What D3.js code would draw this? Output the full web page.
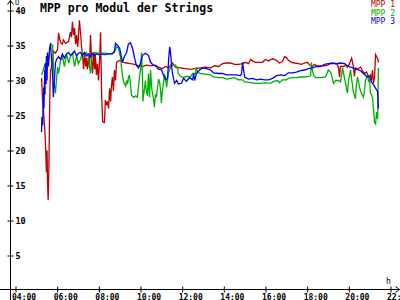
<!DOCTYPE html>
<html>
<head>
<meta charset="utf-8">
<script src="https://cdn.jsdelivr.net/npm/d3@7"></script>
<style>
  body { margin: 0; background: #fff; }
  svg { display: block; font-family: "DejaVu Sans Mono", monospace; }
</style>
</head>
<body>
<svg width="400" height="300"></svg>
<script>
// Series: [time, volts]
const mpp1 = [["05:15",30.4],["05:18",27.2],["05:21",25.4],["05:24",23.2],["05:26",21.5],["05:29",16.9],["05:31",20.0],["05:32",15.8],["05:34",12.9],["05:36",17.0],["05:38",25.0],["05:39",28.4],["05:41",31.5],["05:47",32.5],["05:49",34.2],["05:55",33.9],["06:01",34.4],["06:04",36.8],["06:07",36.0],["06:10",35.4],["06:15",35.2],["06:18",35.8],["06:24",35.3],["06:33",35.6],["06:38",36.9],["06:41",36.2],["06:44",38.4],["06:47",36.5],["06:50",37.5],["06:53",35.2],["06:56",36.5],["06:59",34.8],["07:01",36.0],["07:04",38.6],["07:07",37.0],["07:10",35.0],["07:13",33.6],["07:16",31.6],["07:19",34.0],["07:22",32.0],["07:24",33.2],["07:27",31.6],["07:30",33.5],["07:33",31.8],["07:36",36.5],["07:39",33.0],["07:42",31.0],["07:45",34.0],["07:48",31.6],["07:50",33.8],["07:53",30.8],["07:56",32.4],["07:59",30.0],["08:02",32.6],["08:05",36.9],["08:08",28.0],["08:11",24.1],["08:16",24.0],["08:19",27.2],["08:22",26.5],["08:25",27.0],["08:28",26.0],["08:31",28.9],["08:34",27.0],["08:36",29.0],["08:39",30.5],["08:42",28.5],["08:45",31.5],["08:48",30.0],["08:51",32.6],["08:57",32.8],["09:02",32.9],["09:11",32.6],["09:20",32.5],["09:31",32.4],["09:43",32.3],["09:54",32.1],["10:06",32.0],["10:17",32.2],["10:29",32.1],["10:43",32.2],["10:52",31.9],["11:03",31.7],["11:12",32.0],["11:21",31.8],["11:32",32.5],["11:41",31.9],["11:55",31.8],["12:10",31.7],["12:24",31.6],["12:38",31.7],["12:53",31.8],["13:07",31.9],["13:22",31.8],["13:33",32.1],["13:45",32.0],["13:56",32.4],["14:08",32.5],["14:19",32.5],["14:31",32.3],["14:42",32.3],["14:54",32.4],["15:02",32.6],["15:11",32.4],["15:17",33.0],["15:23",32.8],["15:31",32.6],["15:40",32.6],["15:51",32.6],["16:00",33.0],["16:09",32.8],["16:20",33.1],["16:32",32.9],["16:40",32.5],["16:49",32.7],["16:55",33.4],["17:00",33.3],["17:06",32.9],["17:15",32.6],["17:24",32.5],["17:35",32.4],["17:44",32.3],["17:52",32.5],["18:01",32.6],["18:07",32.2],["18:15",32.0],["18:21",32.3],["18:27",32.1],["18:38",32.1],["18:50",32.1],["18:59",32.2],["19:07",32.4],["19:19",32.4],["19:27",32.3],["19:30",31.9],["19:33",30.5],["19:36",32.0],["19:45",32.0],["19:50",32.2],["19:56",31.9],["20:02",32.4],["20:08",33.2],["20:11",32.5],["20:13",32.0],["20:16",30.6],["20:19",31.8],["20:25",31.6],["20:34",31.9],["20:39",31.4],["20:45",31.0],["20:51",31.2],["20:57",30.5],["21:02",30.8],["21:05",30.0],["21:08",31.5],["21:11",29.6],["21:14",30.5],["21:17",33.7],["21:20",33.4],["21:23",33.1],["21:25",32.6]];

const mpp2 = [["05:15",30.8],["05:18",31.2],["05:24",32.2],["05:29",32.5],["05:35",33.0],["05:41",35.3],["05:47",35.0],["05:49",32.0],["05:52",29.5],["05:55",28.2],["05:58",30.0],["06:01",31.9],["06:04",31.0],["06:10",32.9],["06:15",33.5],["06:21",32.0],["06:27",33.8],["06:33",32.5],["06:38",33.4],["06:44",33.9],["06:50",32.0],["06:56",33.5],["07:01",32.4],["07:07",33.0],["07:13",34.0],["07:19",33.6],["07:24",34.0],["07:30",33.5],["07:33",32.0],["07:36",31.0],["07:39",33.0],["07:42",33.8],["07:48",34.0],["07:59",33.9],["08:16",33.9],["08:34",33.8],["08:45",34.0],["08:51",34.8],["08:57",34.6],["09:00",33.8],["09:02",33.5],["09:05",32.0],["09:08",30.8],["09:11",29.8],["09:17",29.2],["09:20",30.0],["09:23",29.5],["09:25",30.4],["09:28",30.8],["09:31",29.5],["09:34",27.9],["09:40",27.6],["09:46",27.8],["09:51",27.6],["09:54",29.0],["09:57",30.5],["10:00",31.5],["10:03",34.0],["10:06",30.0],["10:07",27.0],["10:09",28.0],["10:12",29.0],["10:14",30.0],["10:17",28.5],["10:20",27.8],["10:23",31.0],["10:26",27.6],["10:29",31.5],["10:32",29.0],["10:35",28.0],["10:37",27.5],["10:40",26.2],["10:43",28.0],["10:46",27.6],["10:49",29.0],["10:52",30.2],["10:55",29.8],["10:58",28.5],["11:00",26.8],["11:03",28.5],["11:06",29.6],["11:09",30.8],["11:12",30.5],["11:15",29.0],["11:18",30.2],["11:21",31.2],["11:26",31.8],["11:32",32.2],["11:41",32.2],["11:47",31.6],["11:49",31.0],["11:55",30.6],["12:04",30.4],["12:12",30.6],["12:24",30.5],["12:30",31.0],["12:38",31.0],["12:41",31.9],["12:44",31.2],["12:53",31.0],["13:07",30.9],["13:22",30.8],["13:30",30.5],["13:45",30.4],["13:56",30.4],["14:08",30.2],["14:19",30.3],["14:31",30.4],["14:42",30.1],["14:54",30.1],["15:00",29.8],["15:17",29.7],["15:31",29.6],["15:46",29.6],["16:00",29.7],["16:14",29.6],["16:26",29.9],["16:35",30.0],["16:40",29.7],["16:49",30.1],["17:00",30.1],["17:06",30.3],["17:18",30.4],["17:29",30.4],["17:41",30.5],["17:52",30.5],["18:04",30.6],["18:10",30.7],["18:12",32.6],["18:15",31.5],["18:18",30.8],["18:24",30.4],["18:38",30.4],["18:53",30.5],["19:01",31.5],["19:07",31.2],["19:10",30.8],["19:16",29.6],["19:22",30.0],["19:30",30.0],["19:36",29.8],["19:42",31.8],["19:48",30.2],["19:50",29.8],["19:53",28.8],["19:56",28.2],["19:59",30.0],["20:05",31.5],["20:08",30.2],["20:11",29.2],["20:13",28.4],["20:19",27.4],["20:22",29.5],["20:25",30.5],["20:28",29.8],["20:31",29.0],["20:36",28.2],["20:42",27.6],["20:45",28.5],["20:48",30.0],["20:54",30.8],["20:57",29.8],["21:00",30.2],["21:02",28.2],["21:05",28.0],["21:08",27.6],["21:11",26.0],["21:14",24.0],["21:17",23.8],["21:20",25.5],["21:23",24.5],["21:25",31.8]];

const mpp3 = [["05:15",22.6],["05:16",24.8],["05:18",23.6],["05:21",29.0],["05:22",26.0],["05:24",31.5],["05:25",28.0],["05:26",32.5],["05:28",29.5],["05:29",33.5],["05:31",30.0],["05:32",34.0],["05:35",32.0],["05:38",34.5],["05:41",35.2],["05:44",33.0],["05:47",30.5],["05:49",27.6],["05:52",30.0],["05:55",32.5],["05:58",33.0],["06:04",33.4],["06:10",33.0],["06:15",33.8],["06:21",33.2],["06:27",33.8],["06:33",34.0],["06:38",33.6],["06:44",33.8],["06:50",34.2],["06:56",33.5],["07:01",33.9],["07:07",34.0],["07:13",33.6],["07:19",34.0],["07:24",33.5],["07:30",33.8],["07:36",33.4],["07:42",33.9],["07:48",33.6],["07:53",33.8],["07:59",33.7],["08:05",33.8],["08:16",33.7],["08:28",33.8],["08:39",33.8],["08:45",34.2],["08:48",35.3],["08:54",35.0],["09:00",34.6],["09:05",33.4],["09:08",32.6],["09:14",33.5],["09:20",34.0],["09:25",35.2],["09:31",35.4],["09:37",34.6],["09:43",33.2],["09:48",32.2],["09:54",31.8],["10:00",32.5],["10:06",33.6],["10:14",33.9],["10:23",33.6],["10:29",32.6],["10:37",32.2],["10:46",32.0],["10:52",31.6],["11:00",31.6],["11:06",30.8],["11:12",30.1],["11:18",30.3],["11:21",33.0],["11:24",34.8],["11:26",34.2],["11:29",32.5],["11:32",31.0],["11:38",29.6],["11:44",30.0],["11:49",29.5],["11:58",29.6],["12:04",30.3],["12:12",29.9],["12:21",30.4],["12:30",30.1],["12:33",31.0],["12:36",30.0],["12:41",31.0],["12:50",31.5],["12:59",31.8],["13:10",31.7],["13:22",31.5],["13:30",31.1],["13:45",31.0],["13:56",31.0],["14:08",30.8],["14:19",30.8],["14:34",30.8],["14:48",30.7],["14:51",31.0],["14:54",32.6],["14:57",31.5],["15:00",30.5],["15:11",30.2],["15:23",30.3],["15:34",30.1],["15:46",30.2],["15:57",30.1],["16:09",30.1],["16:20",30.3],["16:32",30.7],["16:43",30.8],["16:55",30.7],["17:06",31.1],["17:18",31.1],["17:29",31.2],["17:41",31.4],["17:52",31.5],["18:04",31.7],["18:15",31.8],["18:27",32.0],["18:38",32.0],["18:50",32.3],["19:01",32.4],["19:13",32.5],["19:24",32.4],["19:36",32.5],["19:48",32.4],["19:59",32.0],["20:11",31.8],["20:22",31.6],["20:34",31.4],["20:42",31.0],["20:51",30.6],["21:00",30.5],["21:05",29.8],["21:11",29.4],["21:17",28.9],["21:23",28.4],["21:25",26.0]];

const seriesNames = ["MPP 1", "MPP 2", "MPP 3"];
const seriesColors = ["#c00000", "#00b000", "#0000ff"];
const yTicks = [5, 10, 15, 20, 25, 30, 35, 40];
const xTicks = ["04:00", "06:00", "08:00", "10:00", "12:00", "14:00", "16:00", "18:00", "20:00", "22:00"];

const parseTime = d3.timeParse("%H:%M");
const svg = d3.select("svg");

const x = d3.scaleTime()
    .domain([parseTime("04:00"), parseTime("22:00")])
    .range([15.5, 390.5]);
const y = d3.scaleLinear()
    .domain([0, 40])
    .range([290.5, 10.5]);

// Axis lines with arrows
svg.append("line").attr("x1", 10.5).attr("x2", 10.5).attr("y1", 0).attr("y2", 300)
    .attr("stroke", "#000");
svg.append("path").attr("d", "M7.5,4.5 L10.5,0.5 L13.5,4.5").attr("fill", "none").attr("stroke", "#000");
svg.append("line").attr("x1", 0).attr("x2", 400).attr("y1", 289.5).attr("y2", 289.5)
    .attr("stroke", "#000");
svg.append("path").attr("d", "M395.5,286.5 L399.5,289.5 L395.5,292.5").attr("fill", "none").attr("stroke", "#000");

// Y axis: ticks crossing the line, labels on the right
const yAxis = svg.append("g")
    .attr("transform", "translate(10.5,0)")
    .call(d3.axisRight(y).tickValues(yTicks).tickSize(3).tickPadding(2));
yAxis.select(".domain").remove();
yAxis.selectAll(".tick line").attr("x1", -3).attr("x2", 3);
yAxis.selectAll(".tick text")
    .attr("font-family", "DejaVu Sans Mono").attr("font-size", 8.5).attr("font-weight", "bold");

// X axis
const xAxis = svg.append("g")
    .attr("transform", "translate(0,289.5)")
    .call(d3.axisBottom(x).tickValues(xTicks.map(parseTime)).tickFormat(d3.timeFormat("%H:%M")).tickSize(3));
xAxis.select(".domain").remove();
xAxis.selectAll(".tick line").attr("y1", -3).attr("y2", 3);
xAxis.selectAll(".tick text")
    .attr("font-family", "DejaVu Sans Mono").attr("font-size", 8).attr("font-weight", "bold")
    .attr("text-anchor", "start").attr("x", -4).attr("y", 10).attr("dy", null);

// Unit labels
svg.append("text").attr("x", 15).attr("y", 5).attr("font-size", 7).text("U");
svg.append("text").attr("x", 386).attr("y", 284).attr("font-size", 8).text("h");

// Title
svg.append("text").attr("x", 40).attr("y", 12)
    .attr("font-size", 11.5).attr("font-weight", "bold").text("MPP pro Modul der Strings");

// Lines
const line = d3.line()
    .x(d => x(parseTime(d[0])))
    .y(d => y(d[1]));

[mpp1, mpp2, mpp3].forEach((s, i) => {
    svg.append("path")
        .datum(s)
        .attr("fill", "none")
        .attr("stroke", seriesColors[i])
        .attr("stroke-width", 1.3)
        .attr("stroke-linejoin", "miter")
        .attr("d", line);
});

// Legend, top right
seriesNames.forEach((name, i) => {
    svg.append("text")
        .attr("x", 395).attr("y", 7 + i * 8.5)
        .attr("text-anchor", "end")
        .attr("font-size", 8)
        .attr("fill", seriesColors[i])
        .text(name);
});
</script>
</body>
</html>
